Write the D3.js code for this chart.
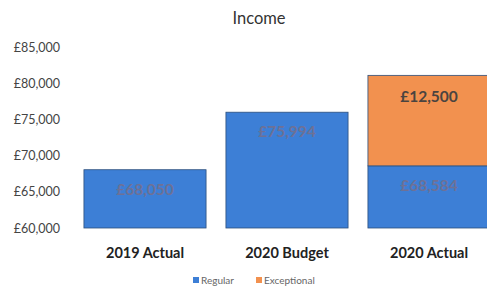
<!DOCTYPE html>
<html>
<head>
<meta charset="utf-8">
<script src="https://cdn.jsdelivr.net/npm/d3@7"></script>
<style>
  body { margin: 0; background: #fff; }
  svg { display: block; font-family: Lato, "Open Sans", sans-serif; }
</style>
</head>
<body>
<script>
var width = 487;
var height = 286;

var categories = ['2019 Actual', '2020 Budget', '2020 Actual'];
var regular = [68050, 75994, 68584];
var exceptional = [0, 0, 12500];
var yTicks = [60000, 65000, 70000, 75000, 80000, 85000];
var seriesNames = ['Regular', 'Exceptional'];
var colors = ['#3d7fd6', '#f2914f'];

var margin = {top: 47, left: 74, bottom: 228};

var svg = d3.select('body').append('svg')
  .attr('width', width)
  .attr('height', height);

var x = d3.scaleBand()
  .domain(categories)
  .range([margin.left, margin.left + 142 * 3])
  .paddingInner(0.14)
  .paddingOuter(0.07);

var y = d3.scaleLinear()
  .domain([60000, 85000])
  .range([margin.bottom, margin.top]);

var fmt = function(v) { return '£' + d3.format(',')(v); };

// y axis labels only
var yAxis = d3.axisLeft(y)
  .tickValues(yTicks)
  .tickFormat(fmt)
  .tickSize(0)
  .tickPadding(0);

svg.append('g')
  .attr('transform', 'translate(60,0)')
  .call(yAxis)
  .call(function(g) { g.select('.domain').remove(); })
  .selectAll('text')
  .attr('font-size', 12.5)
  .attr('font-family', 'Lato, sans-serif')
  .attr('fill', '#444');

var data = categories.map(function(c, i) {
  return {cat: c, regular: regular[i], exceptional: exceptional[i]};
});

var stack = d3.stack().keys(['regular', 'exceptional']);
var layers = stack(data);

svg.selectAll('g.layer')
  .data(layers)
  .enter().append('g')
  .attr('class', 'layer')
  .attr('fill', function(d, i) { return colors[i]; })
  .selectAll('rect')
  .data(function(d) { return d.filter(function(p) { return p[1] > p[0]; }); })
  .enter().append('rect')
  .attr('x', function(d) { return x(d.data.cat); })
  .attr('width', x.bandwidth())
  .attr('y', function(d) { return y(d[1]); })
  .attr('height', function(d) { return y(d[0] === 0 ? 60000 : d[0]) - y(d[1]); })
  .attr('stroke', '#2c4f7c')
  .attr('stroke-width', 0.8);

// data labels
svg.append('g').selectAll('text')
  .data(data)
  .enter().append('text')
  .attr('x', function(d) { return x(d.cat) + x.bandwidth() / 2; })
  .attr('y', function(d) { return y(d.regular) + 25; })
  .attr('text-anchor', 'middle')
  .attr('font-size', 15.5)
  .attr('font-weight', 'bold')
  .attr('fill', '#6d7196')
  .text(function(d) { return fmt(d.regular); });

svg.append('g').selectAll('text')
  .data(data.filter(function(d) { return d.exceptional > 0; }))
  .enter().append('text')
  .attr('x', function(d) { return x(d.cat) + x.bandwidth() / 2; })
  .attr('y', function(d) { return y(d.regular + d.exceptional) + 27; })
  .attr('text-anchor', 'middle')
  .attr('font-size', 15.5)
  .attr('font-weight', 'bold')
  .attr('fill', '#4a4440')
  .text(function(d) { return fmt(d.exceptional); });

// category labels
var xAxis = d3.axisBottom(x).tickSize(0).tickPadding(0);
svg.append('g')
  .attr('transform', 'translate(0,' + (margin.bottom + 20) + ')')
  .call(xAxis)
  .call(function(g) { g.select('.domain').remove(); })
  .selectAll('text')
  .attr('font-size', 14.5)
  .attr('font-weight', 'bold')
  .attr('font-family', 'Lato, sans-serif')
  .attr('fill', '#222');

// title
svg.append('text')
  .attr('x', 259)
  .attr('y', 24)
  .attr('text-anchor', 'middle')
  .attr('font-size', 16.5)
  .attr('fill', '#333')
  .text('Income');

// legend
var legendX = [193, 256];
var legend = svg.append('g').selectAll('g')
  .data(seriesNames)
  .enter().append('g')
  .attr('transform', function(d, i) { return 'translate(' + legendX[i] + ',277)'; });

legend.append('rect')
  .attr('width', 6)
  .attr('height', 6)
  .attr('fill', function(d, i) { return colors[i]; });

legend.append('text')
  .attr('x', 8)
  .attr('y', 6.5)
  .attr('font-size', 10)
  .attr('fill', '#666')
  .text(function(d) { return d; });
</script>
</body>
</html>
